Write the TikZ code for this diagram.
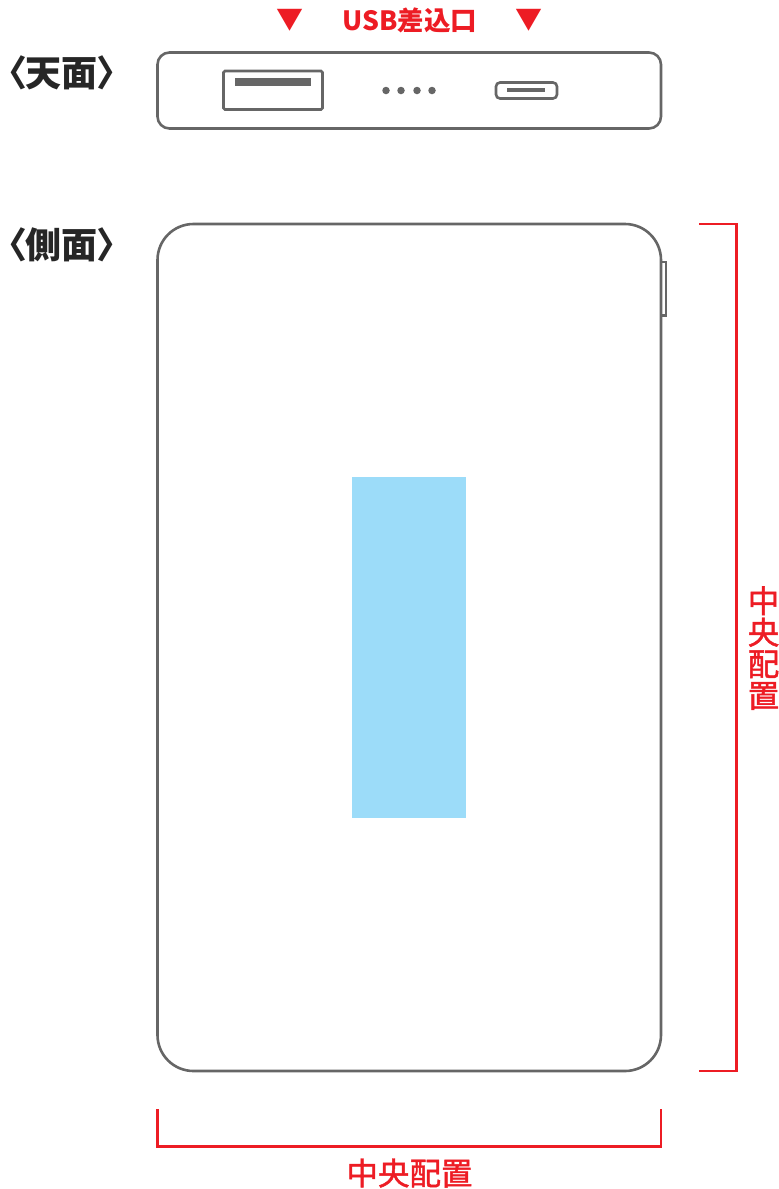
\documentclass[tikz,border=0pt]{standalone}
\usepackage{fontspec}
\newfontfamily\cjk[RawFeature=+palt]{Noto Sans CJK JP}
\newfontfamily\cjkmed[FakeBold=1.5]{Noto Sans CJK JP}
\definecolor{casegray}{HTML}{666666}
\definecolor{markred}{HTML}{ED1C24}
\definecolor{padblue}{HTML}{9CDCF9}
\tikzset{
  caseline/.style={draw=casegray,line width=2.6pt,fill=white},
  markline/.style={draw=markred,line width=2.6pt},
  headtext/.style={inner sep=0pt,text=black!85,font=\cjk\fontsize{36}{36}\selectfont\bfseries},
  marktext/.style={inner sep=0pt,text=markred,font=\cjkmed\fontsize{31.5}{31.5}\selectfont},
  usbtext/.style={inner sep=0pt,text=markred,font=\cjk\fontsize{26.5}{26.5}\selectfont\bfseries},
  arrowtext/.style={inner sep=0pt,text=markred,font=\cjk\fontsize{27}{27}\selectfont},
  dot/.style={circle,fill=casegray,inner sep=0pt,minimum size=7.5pt},
}
\begin{document}
\begin{tikzpicture}[x=1pt,y=-1pt]
\useasboundingbox (0,0) rectangle (779,1189);
% top view
\draw [caseline,rounded corners=12pt] (157.5,52.5) rectangle (661,128.5);
\draw [caseline,rounded corners=1.5pt] (223.5,71) rectangle (322.5,109.5);
\fill [casegray] (235,78) rectangle (311,86);
\foreach \x in {386,401,417,432}
  \node [dot] at (\x,90.5) {};
\draw [caseline,rounded corners=4pt] (496,82.5) rectangle (557,98.5);
\fill [casegray] (507,88) rectangle (545,92);
% side view
\draw [caseline] (661,262) rectangle (666,315.5);
\draw [caseline,rounded corners=36pt] (157.5,224) rectangle (661,1071);
\fill [padblue] (352,477) rectangle (466,818);
% brackets
\draw [markline] (699,224) -- (736.5,224) -- (736.5,1071) -- (699,1071);
\draw [markline] (157.5,1109) -- (157.5,1146.5) -- (661,1146.5) -- (661,1109);
% labels
\node [headtext] (topview) at (62,73) {〈天面〉};
\node [headtext] (sideview) at (62,245) {〈側面〉};
\node [usbtext] (usbport) at (410,20) {USB差込口};
\node [arrowtext] (markl) at (289.5,20) {▼};
\node [arrowtext] (markr) at (529,20) {▼};
\node [marktext] (bottomlabel) at (409.5,1173) {中央配置};
\node [marktext,align=center] (sidelabel) at (763.5,648) {中\\央\\配\\置};
\end{tikzpicture}
\end{document}
